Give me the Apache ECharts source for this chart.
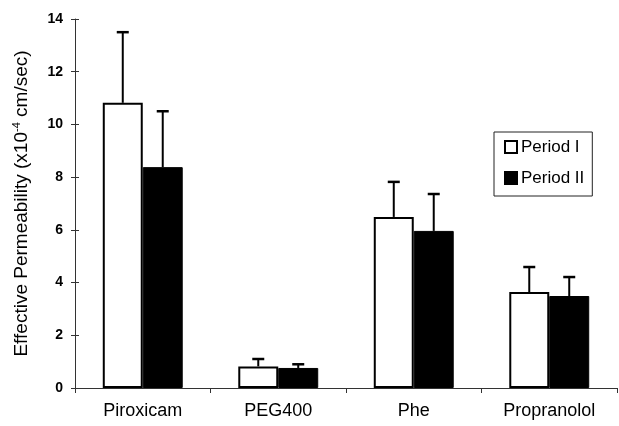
<!DOCTYPE html>
<html><head><meta charset="utf-8">
<script src="https://cdn.jsdelivr.net/npm/echarts@6/dist/echarts.min.js"></script>
<style>html,body{margin:0;padding:0;background:#fff}#c{width:619px;height:426px}</style>
</head><body><div id="c"></div>
<script>
const categories = ['Piroxicam', 'PEG400', 'Phe', 'Propranolol'];
const period1 = [10.82, 0.82, 6.49, 3.64];
const period1Err = [13.5, 1.1, 7.82, 4.59];
const period2 = [8.38, 0.76, 5.96, 3.49];
const period2Err = [10.5, 0.9, 7.36, 4.21];
const yTicks = [0, 2, 4, 6, 8, 10, 12, 14];

const font = 'Liberation Sans, Arial, sans-serif';
const chart = echarts.init(document.getElementById('c'));
const GAP = 0.41;

function errSeries(idx, vals, errs) {
  return {
    type: 'custom',
    name: 'err' + idx,
    z: 5,
    data: categories.map((c, i) => [i, vals[i], errs[i]]),
    renderItem: function (params, api) {
      const band = api.size([1, 0])[0];
      const bw = band * (1 - GAP) / 2;
      const c = api.coord([api.value(0), api.value(1)]);
      const t = api.coord([api.value(0), api.value(2)]);
      const x = c[0] + (idx === 0 ? -bw / 2 : bw / 2);
      return {
        type: 'group',
        children: [
          { type: 'line', shape: { x1: x, y1: c[1], x2: x, y2: t[1] }, style: { stroke: '#000', lineWidth: 2 } },
          { type: 'line', shape: { x1: x - 6, y1: t[1], x2: x + 6, y2: t[1] }, style: { stroke: '#000', lineWidth: 2.5 } }
        ]
      };
    },
    silent: true
  };
}

const yBase = { type: 'value', min: 0, max: 14, interval: 2, splitLine: { show: false } };

chart.setOption({
  animation: false,
  grid: { left: 75, right: 2, top: 19, bottom: 38, containLabel: false },
  legend: {
    data: ['Period I', 'Period II'],
    orient: 'vertical',
    left: 494, top: 132,
    padding: [5, 8, 8, 10],
    itemGap: 11,
    itemWidth: 12, itemHeight: 12,
    icon: 'rect',
    borderColor: '#222', borderWidth: 1,
    textStyle: { fontFamily: font, fontSize: 17, color: '#000', padding: [0, 0, 0, -1], lineHeight: 20 }
  },
  xAxis: {
    type: 'category',
    data: categories,
    axisLine: { lineStyle: { color: '#333', width: 1 } },
    axisTick: { show: true, length: 5, lineStyle: { color: '#333' } },
    axisLabel: { fontFamily: font, fontSize: 18, color: '#000', margin: 14 }
  },
  yAxis: [
    Object.assign({}, yBase, {
      axisLine: { show: true, lineStyle: { color: '#333', width: 1 } },
      axisTick: { show: true, length: 4, lineStyle: { color: '#333' } },
      axisLabel: { fontFamily: font, fontSize: 14, fontWeight: 'bold', color: '#000', margin: 12,
        padding: [0, 0, 6, 0],
        formatter: v => yTicks.includes(v) ? String(v) : '' },
      name: 'Effective Permeability (x10{sup|-4} cm/sec)',
      nameLocation: 'middle',
      nameGap: 43,
      nameRotate: 90,
      nameTextStyle: {
        fontFamily: font, fontSize: 19, color: '#000',
        rich: { sup: { fontFamily: font, fontSize: 11, color: '#000', verticalAlign: 'top', padding: [0, 0, 10, 0] } }
      }
    }),
    Object.assign({}, yBase, {
      position: 'left',
      axisLine: { show: false },
      axisTick: { show: true, inside: true, length: 4, lineStyle: { color: '#333' } },
      axisLabel: { show: false }
    })
  ],
  series: [
    {
      name: 'Period I', type: 'bar', data: period1,
      barGap: '0%', barCategoryGap: (GAP * 100) + '%',
      itemStyle: { color: '#fff', borderColor: '#000', borderWidth: 2 }
    },
    {
      name: 'Period II', type: 'bar', data: period2,
      barGap: '0%', barCategoryGap: (GAP * 100) + '%',
      itemStyle: { color: '#000', borderColor: '#000', borderWidth: 1 }
    },
    errSeries(0, period1, period1Err),
    errSeries(1, period2, period2Err)
  ]
});
</script></body></html>
